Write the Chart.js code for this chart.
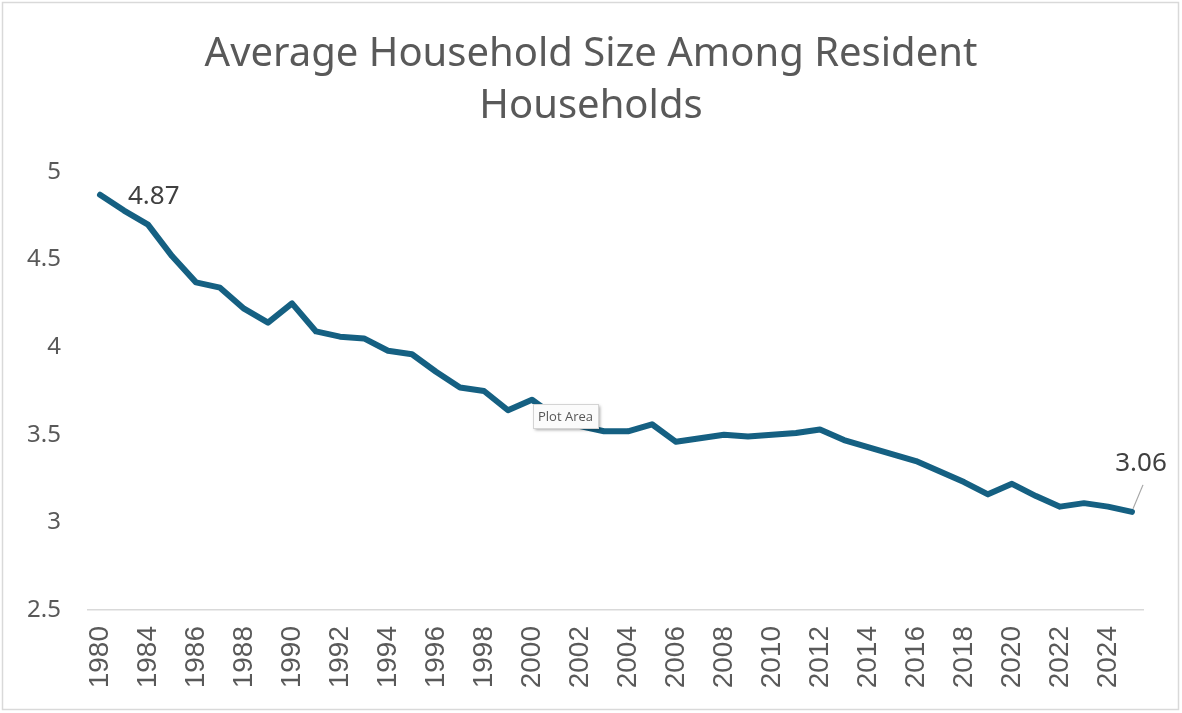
<!DOCTYPE html>
<html>
<head>
<meta charset="utf-8">
<title>Average Household Size Among Resident Households</title>
<script src="https://cdn.jsdelivr.net/npm/chart.js@4/dist/chart.umd.min.js"></script>
<style>
  html, body { margin: 0; padding: 0; background: #fff; }
  #wrap { width: 1182px; height: 713px; }
</style>
</head>
<body>
<div id="wrap"><canvas id="chart" width="1182" height="713"></canvas></div>
<script>
// Años (el segundo punto no tiene etiqueta visible; se asume 1982)
const years = ['1980', '1982', '1984', '1985', '1986', '1987', '1988', '1989', '1990', '1991',
  '1992', '1993', '1994', '1995', '1996', '1997', '1998', '1999', '2000', '2001',
  '2002', '2003', '2004', '2005', '2006', '2007', '2008', '2009', '2010', '2011',
  '2012', '2013', '2014', '2015', '2016', '2017', '2018', '2019', '2020', '2021',
  '2022', '2023', '2024', '2025'];

const householdSize = [4.87, 4.78, 4.70, 4.52, 4.37, 4.34, 4.22, 4.14, 4.25, 4.09,
  4.06, 4.05, 3.98, 3.96, 3.86, 3.77, 3.75, 3.64, 3.70, 3.60,
  3.55, 3.52, 3.52, 3.56, 3.46, 3.48, 3.50, 3.49, 3.50, 3.51,
  3.53, 3.47, 3.43, 3.39, 3.35, 3.29, 3.23, 3.16, 3.22, 3.15,
  3.09, 3.11, 3.09, 3.06];

const yTicks = [2.5, 3, 3.5, 4, 4.5, 5];
const titleLines = ['Average Household Size Among Resident', 'Households'];

const lineColor = '#156082';
const textColor = '#595959';

// Fondo, marco y título (centrado sobre todo el lienzo, como en Excel)
const frame = {
  id: 'frame',
  beforeDraw(chart) {
    const ctx = chart.ctx;
    ctx.save();
    ctx.fillStyle = '#fff';
    ctx.fillRect(0, 0, chart.width, chart.height);
    ctx.strokeStyle = '#d9d9d9';
    ctx.lineWidth = 1.5;
    ctx.strokeRect(2.5, 2.5, chart.width - 6, chart.height - 6);
    ctx.font = '40px "Noto Sans", sans-serif';
    ctx.fillStyle = textColor;
    ctx.textAlign = 'center';
    ctx.textBaseline = 'middle';
    titleLines.forEach((t, i) => ctx.fillText(t, chart.width / 2, 55 + i * 52));
    ctx.restore();
  },
};

// Etiquetas de datos: primer y último punto
const endLabels = {
  id: 'endLabels',
  afterDatasetsDraw(chart) {
    const ctx = chart.ctx;
    const pts = chart.getDatasetMeta(0).data;
    const first = pts[0];
    const last = pts[pts.length - 1];
    ctx.save();
    ctx.font = '26px "Noto Sans", sans-serif';
    ctx.fillStyle = '#404040';
    ctx.textBaseline = 'middle';
    ctx.textAlign = 'left';
    ctx.fillText(householdSize[0].toFixed(2), first.x + 28, first.y + 2);

    ctx.strokeStyle = '#a6a6a6';
    ctx.lineWidth = 1.2;
    ctx.beginPath();
    ctx.moveTo(last.x + 1, last.y - 3);
    ctx.lineTo(last.x + 11, last.y - 27);
    ctx.stroke();
    ctx.textAlign = 'center';
    ctx.fillText(householdSize[householdSize.length - 1].toFixed(2), last.x + 9, last.y - 48);

    // Tooltip de Excel que aparece en la captura
    const bx = 533, by = 404, bw = 65, bh = 24;
    ctx.shadowColor = 'rgba(0,0,0,0.35)';
    ctx.shadowBlur = 3;
    ctx.shadowOffsetX = 2;
    ctx.shadowOffsetY = 2;
    ctx.fillStyle = '#fbfbfb';
    ctx.fillRect(bx, by, bw, bh);
    ctx.shadowColor = 'transparent';
    ctx.strokeStyle = '#d4d4d4';
    ctx.lineWidth = 1;
    ctx.strokeRect(bx + 0.5, by + 0.5, bw, bh);
    ctx.font = '13px "Open Sans", sans-serif';
    ctx.fillStyle = '#575757';
    ctx.textAlign = 'center';
    ctx.fillText('Plot Area', bx + bw / 2, by + bh / 2 + 1);
    ctx.restore();
  },
};

new Chart(document.getElementById('chart'), {
  type: 'line',
  data: {
    labels: years,
    datasets: [{
      data: householdSize,
      borderColor: lineColor,
      backgroundColor: lineColor,
      borderWidth: 6,
      pointRadius: 0,
      tension: 0,
      borderCapStyle: 'round',
      borderJoinStyle: 'round',
    }],
  },
  options: {
    responsive: false,
    animation: false,
    layout: { padding: { left: 0, right: 37, top: 172, bottom: 0 } },
    plugins: {
      legend: { display: false },
      tooltip: { enabled: false },
      title: { display: false },
    },
    scales: {
      x: {
        type: 'category',
        offset: true,
        grid: { display: false, drawTicks: false },
        border: { display: true, color: '#d9d9d9', width: 1.5 },
        ticks: {
          autoSkip: false,
          maxRotation: 90,
          minRotation: 90,
          padding: 16,
          color: textColor,
          font: { family: '"Liberation Sans Narrow", "Liberation Sans", Arial, sans-serif', size: 28 },
          callback(value, index) { return index % 2 === 0 ? this.getLabelForValue(value) : ''; },
        },
        afterFit(scale) { scale.height = 103; },
      },
      y: {
        min: yTicks[0],
        max: yTicks[yTicks.length - 1],
        afterBuildTicks(scale) { scale.ticks = yTicks.map((v) => ({ value: v })); },
        grid: { display: false, drawTicks: false },
        border: { display: false },
        ticks: {
          padding: 27,
          color: textColor,
          font: { family: '"Noto Sans", sans-serif', size: 24 },
          callback: (v) => String(v),
        },
        afterFit(scale) { scale.width = 88; },
      },
    },
  },
  plugins: [frame, endLabels],
});
</script>
</body>
</html>
